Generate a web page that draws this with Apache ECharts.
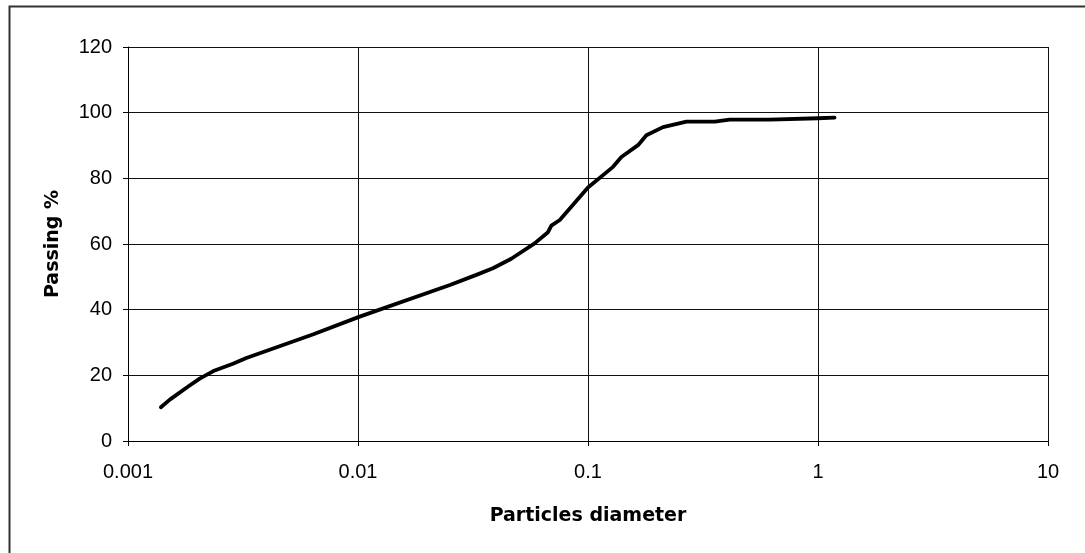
<!DOCTYPE html>
<html>
<head>
<meta charset="utf-8">
<title>Particle size distribution</title>
<script src="https://cdn.jsdelivr.net/npm/echarts@6/dist/echarts.min.js"></script>
<style>
  html, body { margin: 0; padding: 0; background: #fff; }
  #chart { width: 1085px; height: 553px; }
</style>
</head>
<body>
<div id="chart"></div>
<script>
// Grain size curve: particle diameter (log scale) vs cumulative passing %
const diameters = [0.00139, 0.00152, 0.00182, 0.00205, 0.00235, 0.00286, 0.00327, 0.0064, 0.0101,
  0.0251, 0.0327, 0.0386, 0.0464, 0.0586, 0.067, 0.0693, 0.0754, 0.1, 0.1285, 0.1397, 0.165,
  0.1794, 0.212, 0.268, 0.356, 0.413, 0.617, 1.0, 1.18];
const passing = [10.3, 12.6, 16.5, 19.0, 21.3, 23.5, 25.3, 32.5, 37.8,
  47.5, 50.6, 52.6, 55.5, 60.2, 63.6, 65.6, 67.3, 77.2, 83.5, 86.5, 90.1,
  93.1, 95.6, 97.3, 97.3, 97.9, 97.9, 98.3, 98.5];
const xTickLabels = ['0.001', '0.01', '0.1', '1', '10'];
const yTickLabels = ['0', '20', '40', '60', '80', '100', '120'];

const points = diameters.map((d, i) => [d, passing[i]]);
const labelFont = '"Liberation Sans", Arial, sans-serif';
const titleFont = '"DejaVu Sans", Verdana, sans-serif';

const chart = echarts.init(document.getElementById('chart'), null, { renderer: 'canvas' });
chart.setOption({
  animation: false,
  backgroundColor: '#fff',
  grid: { left: 128, top: 47, right: 37, bottom: 112, containLabel: false },
  graphic: [{
    type: 'rect',
    shape: { x: 9.5, y: 6.5, width: 1200, height: 700 },
    style: { fill: 'none', stroke: '#333', lineWidth: 2 },
    z: -1
  }],
  xAxis: {
    type: 'log',
    logBase: 10,
    min: 0.001,
    max: 10,
    name: 'Particles diameter',
    nameLocation: 'middle',
    nameGap: 66,
    nameTextStyle: { fontFamily: titleFont, fontWeight: 'bold', fontSize: 19, color: '#000' },
    axisLine: { show: true, onZero: false, lineStyle: { color: '#000', width: 1 } },
    axisTick: { show: true, inside: false, length: 5, lineStyle: { color: '#000' } },
    minorTick: { show: false },
    axisLabel: {
      fontFamily: labelFont, fontSize: 20, color: '#000', margin: 21,
      formatter: v => {
        const k = Math.round(Math.log10(v)) + 3;
        return xTickLabels[k] !== undefined ? xTickLabels[k] : '';
      }
    },
    splitLine: { show: true, lineStyle: { color: '#111', width: 1 } }
  },
  yAxis: {
    type: 'value',
    min: 0,
    max: 120,
    interval: 20,
    name: 'Passing %',
    nameLocation: 'middle',
    nameGap: 65,
    nameRotate: 90,
    nameTextStyle: { fontFamily: titleFont, fontWeight: 'bold', fontSize: 19, color: '#000' },
    axisLine: { show: true, lineStyle: { color: '#000', width: 1 } },
    axisTick: { show: true, inside: false, length: 5, lineStyle: { color: '#000' } },
    axisLabel: {
      fontFamily: labelFont, fontSize: 20, color: '#000', margin: 16,
      formatter: v => yTickLabels[Math.round(v / 20)]
    },
    splitLine: { show: true, lineStyle: { color: '#111', width: 1 } }
  },
  series: [{
    type: 'line',
    data: points,
    showSymbol: false,
    symbol: 'none',
    smooth: false,
    lineStyle: { color: '#000', width: 3.8, join: 'round', cap: 'round' },
    clip: false
  }]
});
</script>
</body>
</html>
